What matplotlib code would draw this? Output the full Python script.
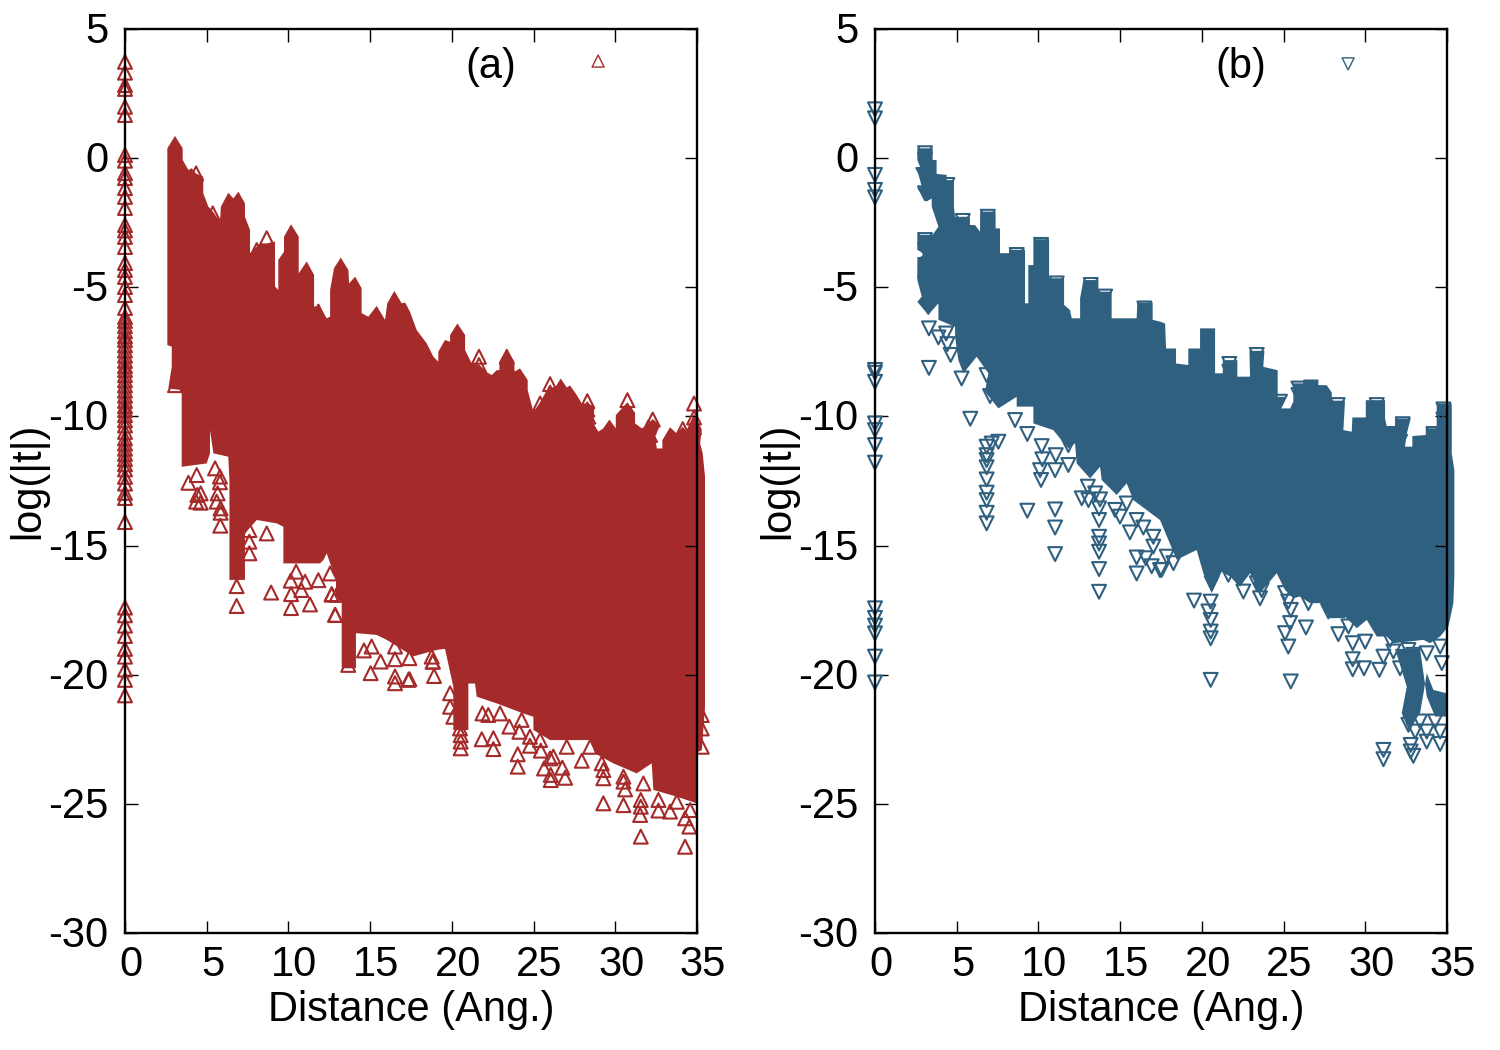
import matplotlib
matplotlib.use('Agg')
import matplotlib.pyplot as plt
from matplotlib.transforms import ScaledTranslation

plt.rcParams['font.family'] = ['Liberation Sans', 'DejaVu Sans']
plt.rcParams['axes.unicode_minus'] = False

RED = '#A52A2A'
BLUE = '#306080'

x_ticks = [0, 5, 10, 15, 20, 25, 30, 35]
y_ticks = [5, 0, -5, -10, -15, -20, -25, -30]

# values at distance 0
a_zero = [3.73, 3.31, 2.83, 2.68, 1.99, 1.67, 0.12, -0.1, -0.58, -0.77, -1.16, -1.5, -1.93, -2.59, -2.8, -3.05, -3.44,
          -4.06, -4.33, -4.6, -4.99, -5.3, -5.8, -6.15, -6.3, -6.5, -6.7, -6.9, -7.04, -7.25, -7.45, -7.65, -7.85,
          -8.05, -8.2, -8.4, -8.6, -8.8, -9.0, -9.2, -9.4, -9.6, -9.75, -9.95, -10.15, -10.35, -10.6, -10.85, -11.05,
          -11.25, -11.45, -11.65, -11.85, -12.05, -12.34, -12.6, -12.96, -13.16, -14.09, -17.4, -17.7, -18.1, -18.5,
          -19.0, -19.3, -19.8, -20.2, -20.8]
b_zero = [1.89, 1.54, -0.65, -1.23, -1.52, -8.2, -8.31, -8.66, -10.27, -10.53, -11.11, -11.79, -17.43, -17.8, -18.1,
          -18.4, -19.3, -20.3]

# outline of the saturated cloud, panel a
a_cloud_x = [2.59, 3.06, 3.53, 3.53, 3.88, 4.08, 4.35, 4.79, 4.79, 5.1, 5.3, 5.81, 5.87, 6.32, 6.63, 6.94, 7.34, 7.34,
             7.65, 7.65, 8.26, 8.67, 9.18, 9.18, 9.38, 9.38, 9.73, 9.73, 10.16, 10.63, 10.63, 11.12, 11.57, 11.57,
             11.83, 12.34, 12.55, 12.55, 12.79, 13.2, 13.67, 13.71, 14.08, 14.48, 14.48, 14.89, 15.4, 15.91, 16.05,
             16.48, 16.93, 17.14, 17.44, 17.85, 18.46, 18.87, 19.17, 19.17, 19.58, 19.89, 19.89, 20.34, 20.81, 20.81,
             21.21, 21.66, 22.17, 22.44, 22.74, 22.91, 22.91, 23.36, 23.83, 23.83, 24.17, 24.64, 24.64, 24.99, 25.29,
             25.6, 26.01, 26.35, 26.66, 27.03, 27.23, 27.64, 27.95, 28.29, 28.72, 28.66, 28.97, 29.27, 29.64, 30.03,
             30.03, 30.74, 31.21, 31.21, 31.62, 31.82, 32.29, 32.74, 32.43, 32.54, 32.88, 32.88, 33.35, 33.76, 34.13,
             34.47, 34.37, 34.82, 35.29, 35.19, 35.35, 35.49, 35.49, 35.3, 35.0, 34.98, 33.76, 32.33, 32.23, 31.31,
             29.88, 28.76, 28.46, 27.23, 26.01, 24.99, 24.99, 24.38, 22.74, 21.52, 21.42, 21.01, 21.01, 20.09, 20.09,
             19.58, 19.07, 17.64, 16.01, 15.4, 14.13, 14.13, 13.26, 13.26, 12.91, 12.91, 12.34, 12.14, 11.93, 9.69,
             9.69, 9.28, 8.06, 7.34, 7.34, 6.39, 6.39, 6.32, 5.41, 5.2, 5.2, 5.0, 3.47, 3.47, 2.65, 2.86, 2.86, 2.59]
a_cloud_y = [0.38, 0.86, 0.38, -0.07, -0.46, -0.39, -0.6, -0.72, -1.36, -1.88, -2.0, -2.46, -1.88, -1.34, -1.56, -1.3,
             -1.75, -2.27, -2.78, -3.68, -3.3, -3.3, -3.23, -4.97, -5.1, -3.94, -3.62, -3.04, -2.56, -3.04, -4.46, -4.0,
             -4.52, -5.75, -5.72, -6.2, -6.14, -5.1, -4.26, -3.85, -4.33, -4.85, -4.59, -5.04, -6.0, -6.14, -5.72,
             -6.26, -5.62, -5.14, -5.62, -5.59, -5.95, -6.66, -7.17, -7.69, -7.88, -7.5, -7.04, -7.11, -6.85, -6.4,
             -6.85, -7.43, -7.95, -8.0, -8.3, -8.4, -8.21, -8.21, -7.88, -7.41, -7.88, -8.27, -8.14, -8.59, -8.98, -9.82,
             -9.56, -9.24, -8.9, -8.85, -8.53, -8.88, -8.8, -9.17, -9.5, -9.5, -9.6, -10.27, -10.59, -10.46, -10.12,
             -10.46, -9.95, -9.45, -9.86, -10.27, -10.46, -10.4, -10.1, -10.34, -10.79, -11.24, -11.24, -10.92, -10.42,
             -10.66, -10.4, -10.66, -10.53, -9.9, -10.5, -11.04, -11.43, -12.33, -21.24, -22.92, -23.0, -24.98, -24.72,
             -24.46, -23.43, -23.82, -23.43, -23.05, -22.53, -22.53, -22.53, -22.14, -21.63, -21.5, -21.11, -20.85,
             -20.34, -20.34, -22.14, -22.14, -20.46, -19.0, -19.04, -19.29, -18.65, -18.46, -18.39, -19.75, -19.75,
             -17.17, -17.04, -16.33, -15.3, -15.56, -15.69, -15.69, -14.27, -14.14, -14.01, -14.53, -16.33, -16.33,
             -12.46, -11.56, -11.43, -10.53, -11.43, -11.82, -11.95, -8.98, -8.92, -8.08, -7.3, -7.24]

a_scatter_x = [3.3, 3.06, 3.88, 4.43, 4.63, 4.35, 4.63, 4.39, 5.51, 5.81, 5.81, 5.67, 5.61, 5.85, 5.85, 5.83, 8.67,
               7.61, 7.61, 7.61, 6.83, 6.83, 8.94, 10.14, 10.16, 10.16, 11.32, 11.02, 10.79, 11.83, 10.47, 12.55,
               12.65, 12.95, 12.87, 4.35, 5.37, 5.37, 8.67, 11.83, 8.06, 21.66, 21.66, 21.66, 23.36, 23.36, 26.01,
               26.01, 25.4, 28.29, 28.29, 28.35, 30.74, 32.29, 32.03, 32.13, 34.13, 34.82, 34.82, 34.82, 18.91, 18.83,
               17.34, 20.54, 20.54, 20.54, 21.83, 22.54, 22.54, 21.87, 23.52, 24.13, 24.03, 24.03, 24.78, 24.78, 25.44,
               25.64, 26.05, 26.05, 26.93, 26.76, 26.01, 27.95, 29.27, 29.27, 29.27, 30.5, 30.5, 30.6, 31.56, 31.52,
               31.56, 32.64, 33.35, 34.27, 34.53, 34.27, 31.56, 12.85, 12.64, 15.09, 14.62, 15.64, 16.52, 15.03, 16.52,
               16.52, 17.4, 18.83, 17.4, 16.52, 13.66,
               18.77, 19.89, 19.89, 20.09, 20.5, 22.23, 22.95, 24.27, 25.4, 26.21, 27.03, 28.46, 29.17, 30.5, 31.72,
               32.64, 33.76, 34.58, 35.29, 35.29, 35.29]
a_scatter_y = [-8.4, -8.79, -12.57, -13.04, -12.98, -13.3, -13.34, -12.27, -12.01, -12.33, -12.55, -12.98, -13.3,
               -13.56, -13.73, -14.23, -14.53, -14.4, -14.85, -15.3, -16.57, -17.34, -16.82, -16.36, -16.88, -17.42,
               -17.28, -16.4, -16.72, -16.34, -16.01, -16.08, -16.88, -16.91, -17.69, -0.59, -2.14, -2.52, -3.1, -5.94,
               -3.56, -7.69, -8.01, -8.31, -7.69, -8.01, -8.75, -9.08, -9.5, -9.41, -9.73, -10.01, -9.37, -10.12,
               -10.42, -10.72, -10.49, -9.5, -10.04, -10.42, -20.05, -19.5, -20.2, -22.85, -22.59, -22.34, -22.5,
               -22.46, -22.88, -21.5, -22.01, -22.21, -23.08, -23.56, -22.4, -22.75, -22.94, -23.63, -23.88, -24.08,
               -23.99, -23.6, -23.24, -23.33, -24.01, -23.69, -24.98, -25.05, -24.14, -24.44, -24.85, -25.43, -26.27,
               -25.26, -25.3, -26.66, -25.88, -25.56, -25.11, -17.68, -16.9, -18.91, -19.06, -19.49, -19.4, -19.94,
               -20.07, -20.33, -20.17, -19.49, -19.36, -18.91, -19.62,
               -19.3, -20.72, -21.24, -21.63, -22.08, -21.56, -21.5, -21.75, -22.53, -23.17, -22.79, -22.79, -23.43,
               -23.95, -24.21, -24.85, -24.92, -25.24, -21.56, -22.08, -22.79]

# outline of the saturated cloud, panel b
b_cloud_x = [2.59, 3.53, 3.53, 3.77, 3.77, 4.39, 4.39, 4.83, 4.83, 4.9, 5.81, 5.81, 6.12, 6.43, 6.43, 7.38, 7.38, 7.65,
             7.65, 8.2, 8.2, 9.18, 9.18, 9.38, 9.38, 9.69, 9.69, 10.65, 10.65, 11.57, 11.57, 11.93, 12.04, 12.55, 12.55,
             12.75, 13.67, 13.67, 14.48, 14.48, 16.01, 16.05, 16.99, 16.99, 17.44, 17.75, 17.81, 18.42, 18.42, 19.17,
             19.17, 19.89, 19.89, 20.81, 20.81, 21.28, 21.28, 22.17, 22.17, 22.95, 22.91, 23.83, 23.76, 24.64, 24.64,
             25.15, 24.78, 25.4, 25.6, 25.6, 26.21, 26.21, 27.13, 27.13, 27.64, 27.95, 27.95, 28.76, 28.66, 29.17, 29.21,
             30.03, 30.03, 31.21, 31.21, 31.31, 31.82, 31.82, 32.78, 32.54, 32.43, 32.88, 32.88, 33.7, 33.7, 34.37,
             34.37, 35.29, 35.29, 35.45, 35.45, 35.39, 35.09, 34.58, 33.96, 33.56, 31.72, 31.31, 30.7, 30.09, 29.48,
             28.76, 28.76, 27.84, 27.23, 26.62, 26.01, 25.6, 25.09, 24.58, 23.56, 22.95, 22.34, 21.72, 21.21, 20.6,
             20.09, 19.68, 18.46, 17.44, 15.81, 15.4, 14.79, 13.87, 13.77, 13.16, 12.34, 12.24, 11.83, 10.91, 9.69,
             9.69, 8.67, 8.67, 7.55, 6.73, 6.94, 6.22, 5.41, 5.1, 4.9, 4.9, 3.88, 3.88, 3.26, 2.59, 2.86, 2.59, 2.59,
             3.0, 2.59, 2.59, 3.53, 3.88, 3.47, 3.47, 3.16, 2.59, 2.86, 2.59, 2.75, 2.59]
b_cloud_y = [0.38, 0.38, -0.07, -0.07, -0.61, -0.65, -0.85, -0.85, -1.88, -2.27, -2.27, -2.59, -2.59, -2.85, -2.07,
             -2.07, -2.72, -2.72, -3.68, -3.68, -3.55, -3.55, -5.62, -5.62, -4.14, -4.14, -3.14, -3.14, -4.65, -4.65,
             -5.68, -5.88, -6.2, -6.2, -5.43, -4.72, -4.72, -5.17, -5.17, -6.2, -6.2, -5.59, -5.59, -6.26, -6.33, -6.4,
             -7.37, -7.37, -7.95, -8.01, -7.37, -7.37, -6.59, -6.59, -8.33, -8.33, -7.82, -7.82, -8.46, -8.46, -7.46,
             -7.46, -8.08, -8.21, -9.24, -9.24, -9.69, -9.69, -9.43, -8.72, -8.72, -8.57, -8.57, -8.79, -8.79, -9.08,
             -9.39, -9.39, -10.53, -10.59, -10.04, -10.04, -9.37, -9.37, -10.08, -10.37, -10.37, -10.08, -10.08, -10.66,
             -11.17, -11.17, -10.76, -10.72, -10.46, -10.46, -9.5, -9.5, -11.43, -12.08, -16.2, -17.23, -18.13, -18.52,
             -18.78, -18.65, -18.78, -18.52, -18.52, -17.88, -18.2, -17.75, -17.81, -17.81, -17.23, -17.23, -16.97,
             -17.04, -16.72, -16.07, -16.84, -16.07, -16.59, -16.2, -16.01, -16.84, -16.07, -15.17, -15.55, -14.01,
             -13.24, -12.59, -13.04, -12.46, -11.95, -12.4, -11.82, -11.04, -11.24, -10.53, -10.27, -9.62, -9.62, -9.24,
             -9.69, -9.04, -8.33, -7.69, -8.33, -7.82, -6.92, -6.53, -6.26, -5.62, -6.07, -5.56, -5.36, -4.72, -3.94,
             -3.7, -3.55, -2.97, -2.97, -2.65, -1.88, -1.56, -1.68, -1.17, -1.1, -0.46, -0.33, -0.07]

# detached lump at the lower right of panel b
b_lump_x = [31.82, 32.54, 32.23, 32.64, 33.35, 33.56, 33.76, 34.17, 34.98, 34.98, 34.27, 33.76, 33.35, 34.98, 34.98]
b_lump_y = [-19.0, -20.46, -21.49, -22.13, -21.49, -20.72, -19.94, -20.59, -20.72, -21.62, -21.62, -20.84, -19.0,
            -19.0, -19.0]

b_scatter_x = [3.3, 3.88, 4.35, 4.43, 4.63, 3.3, 5.3, 6.83, 7.04, 5.83, 8.57, 9.32, 10.2, 11.06, 11.83, 11.83, 10.24,
               10.1, 10.16, 11.02, 6.83, 6.83, 7.55, 7.14, 6.83, 6.83, 6.83, 6.83, 6.83, 6.83, 6.83, 9.32, 11.02, 11.02,
               11.02, 13.02, 12.65, 13.06, 13.47, 13.77, 13.71, 13.71, 13.71, 13.71, 13.71, 13.71, 13.71, 14.69, 14.99,
               15.6, 16.01, 16.01, 16.57, 16.93, 17.44, 17.03, 17.03, 16.42, 15.4, 16.01, 19.52, 20.54, 20.4, 20.54,
               20.54, 20.54, 20.54, 22.54, 23.56, 25.44, 25.4, 25.09, 25.29, 26.37, 25.44, 28.35, 29.23, 29.99, 29.23,
               29.23, 29.92, 30.86, 31.11, 31.11, 32.78, 32.78, 32.94, 33.76, 34.58, 34.68, 33.76, 32.94, 31.72, 31.11,
               32.13, 33.05, 33.76, 34.58, 32.64, 34.27, 33.35, 21.68, 21.68, 23.36, 25.91, 25.91, 24.78, 28.31, 30.7,
               32.29, 32.09, 32.13, 34.17, 34.78, 34.78, 34.78, 3.06, 3.06, 2.96, 3.06, 4.43, 5.37, 6.9, 10.16, 8.67,
               13.2, 16.48, 11.12, 14.08, 3.06, 3.06, 3.06, 3.06, 3.26,
               17.85, 18.26, 17.54, 20.19, 20.5, 20.7, 20.6, 21.62, 22.23, 23.36, 23.66, 25.09, 25.29, 26.52, 27.74,
               28.97, 31.52, 32.64, 34.58]
b_scatter_y = [-6.59, -6.94, -6.79, -7.2, -7.62, -8.12, -8.53, -8.4, -9.21, -10.09, -10.14, -10.68, -11.15, -11.5,
               -11.11, -11.88, -11.66, -12.08, -12.46, -12.08, -11.17, -11.5, -10.98, -11.05, -11.69, -11.97, -12.44,
               -12.95, -13.24, -13.73, -14.14, -13.65, -13.6, -14.3, -15.33, -12.72, -13.17, -13.24, -12.98, -13.21,
               -13.56, -14.01, -14.66, -14.92, -15.24, -15.91, -16.79, -13.62, -13.88, -14.49, -15.46, -16.08, -15.49,
               -15.8, -15.95, -15.04, -14.66, -14.3, -13.37, -14.01, -17.13, -17.17, -17.55, -17.88, -18.33, -18.59,
               -20.2, -16.78, -17.04, -17.49, -18.0, -18.39, -18.91, -18.17, -20.26, -18.43, -18.78, -18.72, -19.4,
               -19.79, -19.75, -19.81, -22.91, -23.27, -22.72, -22.97, -23.14, -22.59, -22.68, -19.55, -19.17, -19.23,
               -19.1, -19.3, -19.75, -22.2, -22.2, -22.2, -21.94, -21.81, -21.81, -7.97, -8.27, -7.62, -8.92, -9.17,
               -9.43, -9.56, -9.56, -10.3, -10.79, -10.98, -10.68, -9.73, -10.12, -10.72, 0.19, -0.07, -0.65, -1.36,
               -1.04, -2.43, -2.27, -3.36, -3.75, -4.91, -5.82, -4.85, -5.36, -3.17, -3.55, -4.14, -4.85, -5.75,
               -15.43, -15.68, -15.94, -15.36, -15.81, -16.2, -16.46, -16.13, -16.26, -16.46, -16.72, -16.84, -17.17,
               -17.23, -17.55, -18.13, -18.65, -19.04, -18.91]

fig = plt.figure(figsize=(15, 10.5), dpi=100)
ax_a = fig.add_axes([125 / 1500, 1 - 933 / 1050, 572 / 1500, 904 / 1050])
ax_b = fig.add_axes([875 / 1500, 1 - 933 / 1050, 572 / 1500, 904 / 1050])


def draw_points(ax, xs, ys, color, marker):
    ax.scatter(xs, ys, s=100, marker=marker, facecolors='none', edgecolors=color, linewidths=1.5, clip_on=False, zorder=2)


def setup_axes(ax, title, title_x, key_x, key_y, color, marker):
    ax.set_xlim(0, 35)
    ax.set_ylim(-30, 5)
    ax.set_xticks(x_ticks)
    ax.set_yticks(y_ticks)
    ax.tick_params(direction='in', length=9, width=1, top=True, right=True, labelsize=30)
    ax.tick_params(axis='y', pad=12)
    ax.tick_params(axis='x', pad=9)
    shift = ScaledTranslation(6 / 100, 0, fig.dpi_scale_trans)
    for lab in ax.get_xticklabels():
        lab.set_transform(lab.get_transform() + shift)
    lift = ScaledTranslation(0, 1.5 / 100, fig.dpi_scale_trans)
    for lab in ax.get_yticklabels():
        lab.set_transform(lab.get_transform() + lift)
    for side in ax.spines.values():
        side.set_linewidth(1.7)
        side.set_zorder(5)
    ax.set_xlabel('Distance (Ang.)', fontsize=30, labelpad=3)
    ax.set_ylabel('log(|t|)', fontsize=30)
    ax.yaxis.set_label_coords(-0.135, 0.5)
    ax.text(title_x, 3.52, title, fontsize=30, ha='center', va='center')
    ax.scatter([key_x], [key_y], s=75, marker=marker, facecolors='none', edgecolors=color, linewidths=1.0)


# panel a
ax_a.fill(a_cloud_x, a_cloud_y, color=RED, lw=0, clip_on=False, zorder=1)
draw_points(ax_a, a_scatter_x, a_scatter_y, RED, '^')
draw_points(ax_a, [0] * len(a_zero), a_zero, RED, '^')
setup_axes(ax_a, '(a)', 22.4, 28.95, 3.76, RED, '^')

# panel b
ax_b.fill(b_cloud_x, b_cloud_y, color=BLUE, lw=0, clip_on=False, zorder=1)
ax_b.fill(b_lump_x, b_lump_y, color=BLUE, lw=0, clip_on=False, zorder=1)
draw_points(ax_b, b_scatter_x, b_scatter_y, BLUE, 'v')
draw_points(ax_b, [0] * len(b_zero), b_zero, BLUE, 'v')
setup_axes(ax_b, '(b)', 22.4, 28.95, 3.65, BLUE, 'v')

fig.savefig('out.png', dpi=100)
